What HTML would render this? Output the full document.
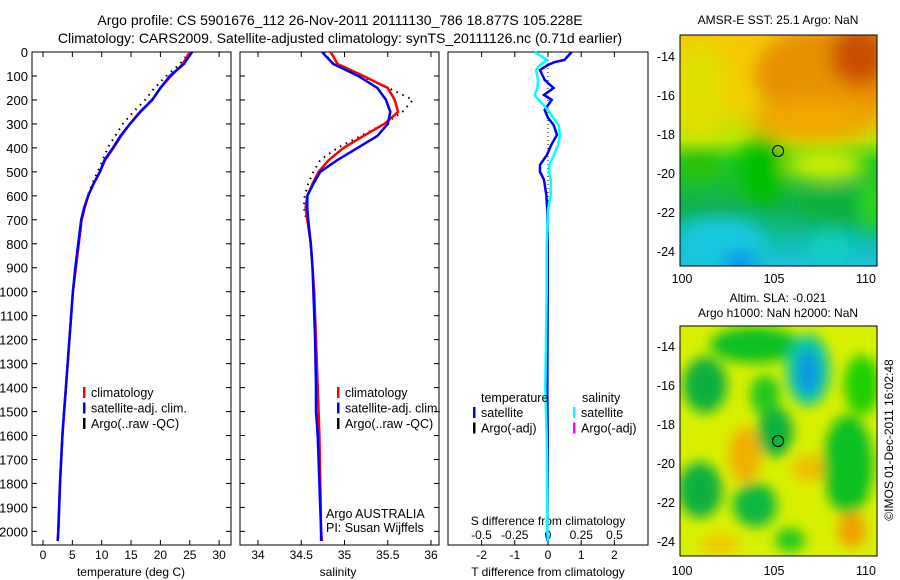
<!DOCTYPE html>
<html><head><meta charset="utf-8">
<style>
html,body{margin:0;padding:0;background:#fff;}
svg{display:block;font-family:"Liberation Sans",sans-serif;}
text{fill:#000;}
</style></head>
<body>
<svg id="fig" width="900" height="580" viewBox="0 0 900 580">
<defs>
<filter id="blur8" x="-20%" y="-20%" width="140%" height="140%"><feGaussianBlur stdDeviation="9"/></filter>
<filter id="blur5" x="-20%" y="-20%" width="140%" height="140%"><feGaussianBlur stdDeviation="6"/></filter>
<clipPath id="clipM1"><rect x="680" y="35" width="197" height="231"/></clipPath>
<clipPath id="clipM2"><rect x="680" y="326" width="197" height="230"/></clipPath>
<linearGradient id="sstGrad" x1="0" y1="0" x2="0" y2="1">
<stop offset="0" stop-color="#f5c800"/><stop offset="0.3" stop-color="#f0d000"/>
<stop offset="0.45" stop-color="#b8e800"/><stop offset="0.55" stop-color="#20c820"/>
<stop offset="0.75" stop-color="#10b050"/><stop offset="0.9" stop-color="#10c0b0"/>
<stop offset="1" stop-color="#20c0e0"/></linearGradient>
</defs>
<text x="340" y="25" text-anchor="middle" font-size="14">Argo profile: CS 5901676_112 26-Nov-2011 20111130_786 18.877S 105.228E</text>
<text x="340" y="43" text-anchor="middle" font-size="14">Climatology: CARS2009. Satellite-adjusted climatology: synTS_20111126.nc (0.71d earlier)</text>

<g id="plots"></g>

<!-- SST map -->
<g>
<text x="778" y="24" text-anchor="middle" font-size="12">AMSR-E SST: 25.1 Argo: NaN</text>
<g clip-path="url(#clipM1)">
<rect x="680" y="35" width="197" height="231" fill="url(#sstGrad)"/>
<g filter="url(#blur8)">
<ellipse cx="830" cy="75" rx="75" ry="50" fill="#e89000"/>
<ellipse cx="860" cy="55" rx="30" ry="30" fill="#c85000"/>
<ellipse cx="815" cy="120" rx="65" ry="22" fill="#f0a800"/>
<ellipse cx="700" cy="90" rx="25" ry="50" fill="#e0e000"/>
<ellipse cx="762" cy="170" rx="22" ry="35" fill="#00c000"/>
<ellipse cx="825" cy="165" rx="40" ry="14" fill="#d8f000"/>
<ellipse cx="700" cy="165" rx="18" ry="12" fill="#30c000"/>
<ellipse cx="840" cy="205" rx="45" ry="18" fill="#10b040"/>
<ellipse cx="720" cy="242" rx="45" ry="25" fill="#18c8e0"/>
<ellipse cx="740" cy="262" rx="15" ry="8" fill="#0070f0"/>
<ellipse cx="830" cy="248" rx="20" ry="15" fill="#10d0c0"/>
<ellipse cx="872" cy="205" rx="10" ry="25" fill="#30e000"/>
</g></g>
<rect x="680" y="35" width="197" height="231" fill="none" stroke="#000"/>
<circle cx="778" cy="151" r="5.5" fill="none" stroke="#000"/>
</g>

<!-- SLA map -->
<g>
<text x="778" y="302" text-anchor="middle" font-size="12">Altim. SLA: -0.021</text>
<text x="778" y="317" text-anchor="middle" font-size="12">Argo h1000: NaN h2000: NaN</text>
<g clip-path="url(#clipM2)">
<rect x="680" y="326" width="197" height="230" fill="#d8f000"/>
<g filter="url(#blur5)">
<ellipse cx="755" cy="345" rx="45" ry="18" fill="#10c020"/>
<ellipse cx="705" cy="385" rx="22" ry="28" fill="#10b040"/>
<ellipse cx="808" cy="370" rx="22" ry="36" fill="#10c8a0"/>
<ellipse cx="808" cy="372" rx="10" ry="22" fill="#1090e8"/>
<ellipse cx="775" cy="432" rx="18" ry="25" fill="#10b040"/>
<ellipse cx="765" cy="395" rx="15" ry="20" fill="#20c820"/>
<ellipse cx="745" cy="455" rx="16" ry="28" fill="#f0b000"/>
<ellipse cx="810" cy="468" rx="18" ry="14" fill="#f0c000"/>
<ellipse cx="700" cy="490" rx="22" ry="28" fill="#10b040"/>
<ellipse cx="755" cy="505" rx="22" ry="22" fill="#10b840"/>
<ellipse cx="848" cy="465" rx="25" ry="50" fill="#10c020"/>
<ellipse cx="862" cy="385" rx="18" ry="30" fill="#20d000"/>
<ellipse cx="852" cy="530" rx="14" ry="18" fill="#f0a000"/>
<ellipse cx="790" cy="540" rx="15" ry="12" fill="#20c820"/>
<ellipse cx="720" cy="545" rx="20" ry="10" fill="#f0c800"/>
</g></g>
<rect x="680" y="326" width="197" height="230" fill="none" stroke="#000"/>
<circle cx="778" cy="441" r="5.5" fill="none" stroke="#000"/>
</g>
<text transform="translate(893,440) rotate(-90)" text-anchor="middle" font-size="12">©IMOS 01-Dec-2011 16:02:48</text>
</svg>
<script>
// ---- data ----
const depthLevels = [0,50,100,150,200,250,300,350,400,450,500,550,600,650,700,800,900,1000,1200,1400,1500,1600,1800,2000,2040];
const tempClim = [25.0,23.8,21.8,20.0,18.6,16.5,14.8,13.3,12.0,10.6,9.7,8.6,7.7,7.1,6.6,6.1,5.6,5.1,4.5,3.9,3.6,3.3,2.9,2.6,2.5];
const tempSat  = [25.4,24.0,21.6,20.0,18.6,16.6,14.8,13.2,11.9,10.5,9.7,8.6,7.7,7.0,6.5,6.0,5.5,5.1,4.5,3.9,3.6,3.3,2.9,2.6,2.5];
const tempArgo = [25.0,23.3,21.0,19.0,17.4,15.4,13.6,12.3,11.0,10.2,9.3,8.4,7.6,7.0,6.5];
const salClim = [34.84,34.92,35.22,35.50,35.58,35.62,35.46,35.22,34.99,34.82,34.70,34.63,34.57,34.55,34.57,34.61,34.63,34.65,34.67,34.69,34.70,34.71,34.72,34.73,34.74];
const salSat  = [34.74,34.87,35.16,35.38,35.48,35.53,35.50,35.38,35.15,34.92,34.72,34.64,34.57,34.57,34.58,34.61,34.63,34.64,34.66,34.67,34.67,34.69,34.71,34.73,34.73];
const salArgo = [34.76,34.87,35.19,35.51,35.79,35.67,35.46,35.19,34.92,34.72,34.64,34.58,34.54,34.53,34.56];
const diffDepth = [0,33,42,54,75,117,150,179,200,242,275,304,346,387,429,471,500,533,596,658,800,1000,1400,1600,2000,2040];
const tDiff = [0.71,0.5,0.2,0,-0.24,-0.1,0.17,-0.12,0.11,-0.1,0,0.17,0.27,0.1,-0.03,-0.24,-0.24,-0.12,-0.05,-0.02,-0.01,-0.01,-0.02,-0.01,-0.02,-0.02];
const sDiff = [-0.1,-0.01,-0.03,-0.06,-0.09,-0.075,-0.08,-0.1,-0.07,0,0.04,0.08,0.09,0.075,0.045,0.01,0.01,0.02,0.02,0.0,-0.01,-0.01,-0.02,-0.01,-0.005,0];
const depthTicks = [0,100,200,300,400,500,600,700,800,900,1000,1100,1200,1300,1400,1500,1600,1700,1800,1900,2000];
const tempTicks = [0,5,10,15,20,25,30];
const salTicks = [34,34.5,35,35.5,36];
const tDiffTicks = [-2,-1,0,1,2];
const sDiffTicks = [-0.5,-0.25,0,0.25,0.5];
const latTicks = [-14,-16,-18,-20,-22,-24];
const lonTicks = [100,105,110];

// ---- geometry ----
const NS="http://www.w3.org/2000/svg";
const top0=52, bot=545;
const yD = d => top0 + d*0.2397;
const xT = t => 43 + t*5.87;
const xS = s => 258 + (s-34)*86.5;
const xTD = v => 548 + v*33.2;
const xSD = v => 548 + v*133;
const g = document.getElementById('plots');
function el(tag, attrs, parent){const e=document.createElementNS(NS,tag);for(const k in attrs)e.setAttribute(k,attrs[k]);(parent||g).appendChild(e);return e;}
function txt(x,y,s,anchor,size,parent){const t=el('text',{x:x,y:y,'text-anchor':anchor||'middle','font-size':size||12},parent);t.textContent=s;return t;}
function line(xs,ds,xf,color,w,dash,name){
  const pts=xs.map((v,i)=>xf(v).toFixed(1)+','+yD(ds[i]).toFixed(1)).join(' ');
  const p=el('polyline',{points:pts,fill:'none',stroke:color,'stroke-width':w});
  if(dash)p.setAttribute('stroke-dasharray',dash);
  
  
}
function panel(x0,x1,name){
  const r=el('rect',{x:x0,y:top0,width:x1-x0,height:bot-top0,fill:'none',stroke:'#000'});
  
  
}

// Panel 1: temperature
panel(32,231,'temperature-panel');
depthTicks.forEach(d=>{
  el('line',{x1:32,x2:37,y1:yD(d),y2:yD(d),stroke:'#000'});
  el('line',{x1:226,x2:231,y1:yD(d),y2:yD(d),stroke:'#000'});
  el('line',{x1:240,x2:245,y1:yD(d),y2:yD(d),stroke:'#000'});
  el('line',{x1:434,x2:439,y1:yD(d),y2:yD(d),stroke:'#000'});
  const t=txt(28,yD(d)+5,String(d),'end',13);
  
  
});
tempTicks.forEach(v=>{
  el('line',{x1:xT(v),x2:xT(v),y1:top0,y2:top0+5,stroke:'#000'});
  el('line',{x1:xT(v),x2:xT(v),y1:bot,y2:bot-5,stroke:'#000'});
  const t=txt(xT(v),559,String(v));
  
  
});
const tt=txt(131,576,'temperature (deg C)');


line(tempArgo,depthLevels,xT,'#000',2,'1.5 5','temperature-argo');
line(tempClim,depthLevels,xT,'#f00',2.5,null,'temperature-climatology');
line(tempSat,depthLevels,xT,'#00f',2.5,null,'temperature-satellite');

// Panel 2: salinity
panel(240,439,'salinity-panel');
salTicks.forEach(v=>{
  el('line',{x1:xS(v),x2:xS(v),y1:top0,y2:top0+5,stroke:'#000'});
  el('line',{x1:xS(v),x2:xS(v),y1:bot,y2:bot-5,stroke:'#000'});
  const t=txt(xS(v),559,String(v));
  
  
});
const st=txt(338,576,'salinity');


line(salArgo,depthLevels,xS,'#000',2,'1.5 5','salinity-argo');
line(salClim,depthLevels,xS,'#f00',2.5,null,'salinity-climatology');
line(salSat,depthLevels,xS,'#00f',2.5,null,'salinity-satellite');

// legends
function legend(x,y,items,prefix){
  items.forEach((it,i)=>{
    el('rect',{x:x,y:y+i*15.5-11,width:2.5,height:11,fill:it[0]});
    const t=txt(x+8,y+i*15.5-1,it[1],'start',12.5);
    
    
  });
}
const L=[['#f00','climatology'],['#00f','satellite-adj. clim.'],['#000','Argo(..raw -QC)']];
legend(83,398,L,'temperature');
legend(337,398,L,'salinity');
const a1=txt(326,518,'Argo AUSTRALIA','start',12.5);


const a2=txt(326,532,'PI: Susan Wijffels','start',12.5);



// Panel 3: differences
panel(448,648,'difference-panel');
el('line',{x1:548,x2:548,y1:top0,y2:bot,stroke:'#000','stroke-dasharray':'1 3'});
tDiffTicks.forEach(v=>{
  el('line',{x1:xTD(v),x2:xTD(v),y1:bot,y2:bot-5,stroke:'#000'});
  el('line',{x1:xTD(v),x2:xTD(v),y1:top0,y2:top0+5,stroke:'#000'});
  const t=txt(xTD(v),559,String(v));
  
  
});
sDiffTicks.forEach(v=>{
  const t=txt(xSD(v),539,String(v));
  
  
});
const sdt=txt(548,525,'S difference from climatology');


const tdt=txt(548,576,'T difference from climatology');


line(tDiff,diffDepth,xTD,'#00f',2.5,null,'t-diff-satellite');
line(sDiff,diffDepth,xSD,'#0ff',2.5,null,'s-diff-satellite');
const h1=txt(481,402,'temperature','start',12.5);


const h2=txt(582,402,'salinity','start',12.5);


legend(473,418,[['#00f','satellite'],['#000','Argo(-adj)']],'t-diff');
legend(573,418,[['#0ff','satellite'],['#f0f','Argo(-adj)']],'s-diff');

// map axes
function mapAxes(top,bottomY,lat14,lat24,lonLabelY,prefix){
  const ly=v=>lat14+(v+14)/(-10)*(lat24-lat14);
  const lx=v=>682+(v-100)*18.4;
  latTicks.forEach(v=>{
    el('line',{x1:680,x2:684,y1:ly(v),y2:ly(v),stroke:'#000'});
    el('line',{x1:873,x2:877,y1:ly(v),y2:ly(v),stroke:'#000'});
    const t=txt(675,ly(v)+5,String(v),'end',12.5);
    
    
  });
  lonTicks.forEach(v=>{
    el('line',{x1:lx(v),x2:lx(v),y1:top,y2:top+4,stroke:'#000'});
    el('line',{x1:lx(v),x2:lx(v),y1:bottomY,y2:bottomY-4,stroke:'#000'});
    const t=txt(lx(v),lonLabelY,String(v),'middle',12.5);
    
    
  });
}
mapAxes(35,266,56,251,283,'sst');
mapAxes(326,556,346,541,575,'sla');
</script>
</body></html>
